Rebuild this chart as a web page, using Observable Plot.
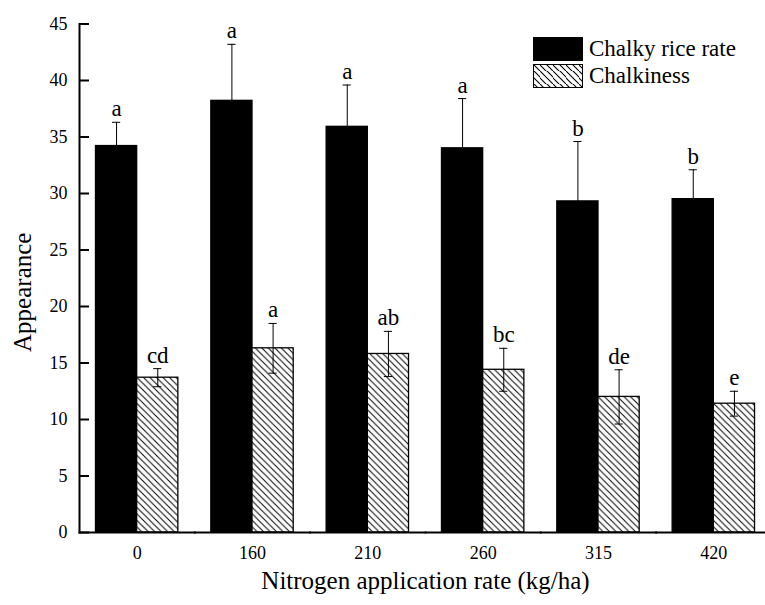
<!DOCTYPE html>
<html>
<head>
<meta charset="utf-8">
<script src="https://cdn.jsdelivr.net/npm/d3@7"></script>
<script src="https://cdn.jsdelivr.net/npm/@observablehq/plot@0.6"></script>
<style>
  body { margin: 0; background: #fff; }
  #wrap { position: relative; width: 765px; height: 605px; font-family: "Liberation Serif", serif; }
  #legend { position: absolute; left: 533px; top: 35px; font-size: 23px; color: #000; font-family: "Liberation Serif", serif; }
  #legend span { font-family: "Liberation Serif", serif; }
  .item { display: flex; align-items: center; height: 27px; }
  .sw { width: 50px; height: 24px; margin-right: 6px; box-sizing: border-box; border: 1.5px solid #000; }
</style>
</head>
<body>
<div id="wrap"></div>
<script>
const rates = ["0", "160", "210", "260", "315", "420"];
const seriesNames = ["Chalky rice rate", "Chalkiness"];
const chalkyRate = [34.2, 38.2, 35.9, 34.0, 29.3, 29.5];
const chalkyRateErr = [2.1, 5.0, 3.7, 4.4, 5.3, 2.6];
const chalkyRateLetters = ["a", "a", "a", "a", "b", "b"];
const chalkiness = [13.7, 16.3, 15.8, 14.4, 12.0, 11.4];
const chalkinessErr = [0.8, 2.2, 2.0, 1.9, 2.4, 1.1];
const chalkinessLetters = ["cd", "a", "ab", "bc", "de", "e"];
const yTicks = [0, 5, 10, 15, 20, 25, 30, 35, 40, 45];
const yLabel = "Appearance";
const xLabel = "Nitrogen application rate (kg/ha)";

const rows = [];
rates.forEach((r, i) => {
  rows.push({rate: r, series: seriesNames[0], value: chalkyRate[i], err: chalkyRateErr[i], letter: chalkyRateLetters[i]});
  rows.push({rate: r, series: seriesNames[1], value: chalkiness[i], err: chalkinessErr[i], letter: chalkinessLetters[i]});
});

const serif = "Liberation Serif";

const chart = Plot.plot({
  width: 765,
  height: 605,
  marginLeft: 79,
  marginRight: -6,
  marginTop: 23.5,
  marginBottom: 73,
  style: {fontFamily: serif, background: "transparent"},
  fx: {domain: rates, padding: 0, round: false, label: null},
  x: {domain: seriesNames, paddingInner: 0, paddingOuter: 0.4, round: false, axis: null},
  y: {domain: [0, 45], label: null},
  color: {domain: seriesNames, range: ["#000", "url(#hatch)"]},
  marks: [
    Plot.barY(rows, {fx: "rate", x: "series", y: "value", fill: "series", stroke: "#000", strokeWidth: 1.3}),
    Plot.ruleX(rows, {fx: "rate", x: "series", y1: d => d.value - d.err, y2: d => d.value + d.err, stroke: "#000", strokeWidth: 1}),
    Plot.tickY(rows, {fx: "rate", x: "series", y: d => d.value + d.err, stroke: "#000", strokeWidth: 1, insetLeft: 16.5, insetRight: 16.5}),
    Plot.tickY(rows, {fx: "rate", x: "series", y: d => d.value - d.err, stroke: "#000", strokeWidth: 1, insetLeft: 16.5, insetRight: 16.5}),
    Plot.text(rows, {fx: "rate", x: "series", y: d => d.value + d.err, text: "letter", lineAnchor: "bottom", dy: -6, fontSize: 23, fontFamily: serif, fill: "#000"}),
    Plot.frame({anchor: "bottom", stroke: "#000", strokeWidth: 2}),
    Plot.frame({anchor: "left", facet: "super", stroke: "#000", strokeWidth: 2}),
    Plot.axisY({ticks: yTicks, tickSize: -10, tickPadding: 22, fontSize: 18, fontFamily: serif, label: yLabel, labelAnchor: "center", labelArrow: "none", labelOffset: 66, strokeWidth: 2}),
    Plot.axisFx({anchor: "bottom", tickSize: 0, tickPadding: 14, fontSize: 18, fontFamily: serif, label: xLabel, labelAnchor: "center", labelArrow: "none", labelOffset: 56})
  ]
});

// hatch pattern definition
const ns = "http://www.w3.org/2000/svg";
const defs = document.createElementNS(ns, "defs");
defs.innerHTML = `<pattern id="hatch" patternUnits="userSpaceOnUse" width="6.5" height="6.5">
  <rect width="6.5" height="6.5" fill="#fff"/>
  <path d="M-1,-1 L7.5,7.5 M-1,5.5 L1,7.5 M5.5,-1 L7.5,1" stroke="#000" stroke-width="1"/>
</pattern>`;
chart.insertBefore(defs, chart.firstChild);
chart.querySelectorAll("text").forEach(t => {
  if (t.textContent === yLabel) { t.setAttribute("font-size", 25); t.setAttribute("dx", -14); }
  if (t.textContent === xLabel) { t.setAttribute("font-size", 25); }
});

const wrap = document.getElementById("wrap");
wrap.appendChild(chart);

const legend = document.createElement("div");
legend.id = "legend";
const hatchSvg = '<svg xmlns="http://www.w3.org/2000/svg" width="6.5" height="6.5"><path d="M-1,-1 L7.5,7.5 M-1,5.5 L1,7.5 M5.5,-1 L7.5,1" stroke="black" stroke-width="1"/></svg>';
legend.innerHTML = `
  <div class="item"><div class="sw" style="background:#000"></div><span>${seriesNames[0]}</span></div>
  <div class="item"><div class="sw" style="background:#fff url('data:image/svg+xml;utf8,${encodeURIComponent(hatchSvg)}')"></div><span>${seriesNames[1]}</span></div>`;
wrap.appendChild(legend);
</script>
</body>
</html>
